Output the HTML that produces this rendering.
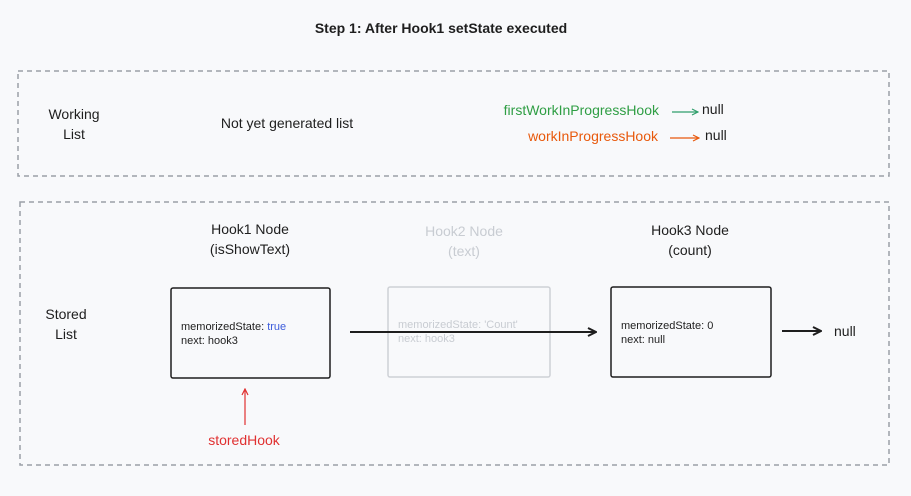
<!DOCTYPE html>
<html><head><meta charset="utf-8"><style>
html,body{margin:0;padding:0;background:#f8f9fb;}
svg{display:block;}
text{font-family:"Liberation Sans",sans-serif;}
</style></head><body>
<svg width="911" height="496" viewBox="0 0 911 496" xmlns="http://www.w3.org/2000/svg">
<defs>
<marker id="ab" markerWidth="10" markerHeight="10" refX="9" refY="5" orient="auto" markerUnits="userSpaceOnUse"><path d="M1,1 L9,5 L1,9" fill="none" stroke="#1e1e1e" stroke-width="2"/></marker>
<marker id="ag" markerWidth="8" markerHeight="8" refX="7" refY="4" orient="auto" markerUnits="userSpaceOnUse"><path d="M1,1 L7,4 L1,7" fill="none" stroke="#2f9e6b" stroke-width="1.2"/></marker>
<marker id="ao" markerWidth="8" markerHeight="8" refX="7" refY="4" orient="auto" markerUnits="userSpaceOnUse"><path d="M1,1 L7,4 L1,7" fill="none" stroke="#e8590c" stroke-width="1.2"/></marker>
<marker id="ar" markerWidth="8" markerHeight="8" refX="7" refY="4" orient="auto" markerUnits="userSpaceOnUse"><path d="M1,1 L7,4 L1,7" fill="none" stroke="#e03131" stroke-width="1.2"/></marker>
</defs>
<text x="441" y="33" text-anchor="middle" font-size="14" font-weight="bold" fill="#1e1e1e">Step 1: After Hook1 setState executed</text>

<rect x="18" y="71" width="871" height="105" fill="none" stroke="#9aa0a8" stroke-width="1.5" stroke-dasharray="5,4"/>
<text x="74" y="119" text-anchor="middle" font-size="14" fill="#1e1e1e">Working</text>
<text x="74" y="139" text-anchor="middle" font-size="14" fill="#1e1e1e">List</text>
<text x="287" y="128" text-anchor="middle" font-size="14" fill="#1e1e1e">Not yet generated list</text>
<text x="659" y="115" text-anchor="end" font-size="14" fill="#2f9e44">firstWorkInProgressHook</text>
<line x1="672" y1="112" x2="698" y2="112" stroke="#2f9e6b" stroke-width="1.2" marker-end="url(#ag)"/>
<text x="702" y="114" font-size="14" fill="#1e1e1e">null</text>
<text x="658" y="141" text-anchor="end" font-size="14" fill="#e8590c">workInProgressHook</text>
<line x1="670" y1="138" x2="699" y2="138" stroke="#e8590c" stroke-width="1.2" marker-end="url(#ao)"/>
<text x="705" y="140" font-size="14" fill="#1e1e1e">null</text>

<rect x="20" y="202" width="869" height="263" fill="none" stroke="#9aa0a8" stroke-width="1.5" stroke-dasharray="5,4"/>
<text x="66" y="319" text-anchor="middle" font-size="14" fill="#1e1e1e">Stored</text>
<text x="66" y="339" text-anchor="middle" font-size="14" fill="#1e1e1e">List</text>

<text x="250" y="234" text-anchor="middle" font-size="14" fill="#1e1e1e">Hook1 Node</text>
<text x="250" y="254" text-anchor="middle" font-size="14" fill="#1e1e1e">(isShowText)</text>
<text x="464" y="236" text-anchor="middle" font-size="14" fill="#c8ccd2">Hook2 Node</text>
<text x="464" y="256" text-anchor="middle" font-size="14" fill="#c8ccd2">(text)</text>
<text x="690" y="235" text-anchor="middle" font-size="14" fill="#1e1e1e">Hook3 Node</text>
<text x="690" y="255" text-anchor="middle" font-size="14" fill="#1e1e1e">(count)</text>

<rect x="171" y="288" width="159" height="90" fill="none" stroke="#1e1e1e" stroke-width="1.5" rx="2"/>
<text x="181" y="330" font-size="11" fill="#1e1e1e">memorizedState: <tspan fill="#3b5bdb">true</tspan></text>
<text x="181" y="344" font-size="11" fill="#1e1e1e">next: hook3</text>

<rect x="388" y="287" width="162" height="90" fill="none" stroke="#ced1d6" stroke-width="1.5" rx="2"/>
<text x="398" y="328" font-size="11" fill="#c8ccd2">memorizedState: 'Count'</text>
<text x="398" y="342" font-size="11" fill="#c8ccd2">next: hook3</text>

<rect x="611" y="287" width="160" height="90" fill="none" stroke="#1e1e1e" stroke-width="1.5" rx="2"/>
<text x="621" y="329" font-size="11" fill="#1e1e1e">memorizedState: 0</text>
<text x="621" y="343" font-size="11" fill="#1e1e1e">next: null</text>

<line x1="350" y1="332" x2="596" y2="332" stroke="#1e1e1e" stroke-width="2" marker-end="url(#ab)"/>
<line x1="782" y1="331" x2="821" y2="331" stroke="#1e1e1e" stroke-width="2" marker-end="url(#ab)"/>
<text x="834" y="336" font-size="14" fill="#1e1e1e">null</text>

<line x1="245" y1="425" x2="245" y2="389" stroke="#e03131" stroke-width="1.2" marker-end="url(#ar)"/>
<text x="244" y="445" text-anchor="middle" font-size="14" fill="#e03131">storedHook</text>
</svg>
</body></html>
